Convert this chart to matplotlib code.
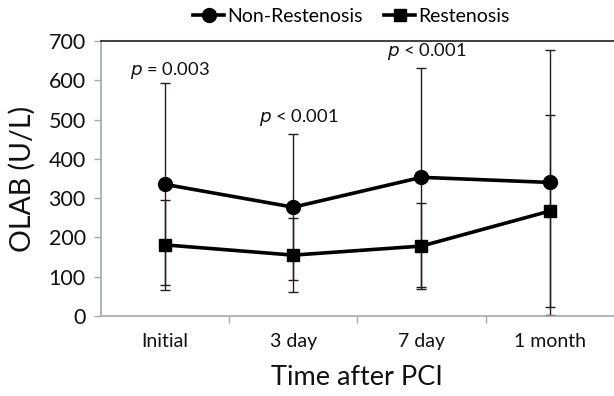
import matplotlib
matplotlib.use("Agg")
import matplotlib.pyplot as plt
from matplotlib.lines import Line2D

plt.rcParams['font.family'] = ['Lato', 'DejaVu Sans']

categories = ["Initial", "3 day", "7 day", "1 month"]
non_rest_mean = [335, 277, 353, 340]
non_rest_sd = [257, 186, 278, 338]
rest_mean = [181, 155, 178, 267]
rest_sd = [114, 94, 109, 244]
p_labels = ["= 0.003", "< 0.001", "< 0.001"]
p_y = [626, 505, 672]

fig = plt.figure(figsize=(6.14, 3.96), dpi=100)
ax = fig.add_axes([0.1645, 0.202, 0.835, 0.6945])

x = list(range(len(categories)))
ecol = '#2a1a1a'
ax.errorbar(x, non_rest_mean, yerr=non_rest_sd, fmt='none', ecolor=ecol,
            elinewidth=1.0, capsize=3.5, capthick=1.0, zorder=2)
ax.errorbar(x, rest_mean, yerr=rest_sd, fmt='none', ecolor=ecol,
            elinewidth=1.0, capsize=3.5, capthick=1.0, zorder=2)
ax.plot(x, non_rest_mean, color='black', lw=2.6, marker='o', ms=10, zorder=3)
ax.plot(x, rest_mean, color='black', lw=2.6, marker='s', ms=9, zorder=3)

for i, (lab, yy) in enumerate(zip(p_labels, p_y)):
    ax.text(i + 0.04, yy, r'$p$ ' + lab, ha='center', va='center', fontsize=13.2,
            color='#111111')

ax.set_xlim(-0.5, 3.5)
ax.set_ylim(0, 700)
ax.set_yticks(range(0, 701, 100))
ax.set_xticks(x)
ax.set_xticklabels(categories)
ax.set_xticks([0.5, 1.5, 2.5], minor=True)
ax.tick_params(axis='x', which='major', length=0, pad=12, labelsize=14, colors='#111111')
ax.tick_params(axis='x', which='minor', length=5, color='#a0a8b0', width=1)
ax.tick_params(axis='y', length=5, color='#a0a8b0', width=1, labelsize=15.5,
               labelcolor='#111111', pad=6)

for s in ['left', 'bottom']:
    ax.spines[s].set_color('#a0a8b0')
    ax.spines[s].set_linewidth(1.2)
ax.spines['right'].set_visible(False)
ax.spines['top'].set_color('#2a1a1a')
ax.spines['top'].set_linewidth(1.2)

ax.set_ylabel('OLAB (U/L)', fontsize=20.5, color='#111111', labelpad=9)
ax.set_xlabel('Time after PCI', fontsize=19.5, color='#111111', labelpad=11)

handles = [Line2D([], [], color='black', lw=2.6, marker='o', ms=10),
           Line2D([], [], color='black', lw=2.6, marker='s', ms=9)]
fig.legend(handles, ['Non-Restenosis', 'Restenosis'], loc='center',
           bbox_to_anchor=(0.572, 0.958), ncol=2, frameon=False, fontsize=14,
           handlelength=1.6, handletextpad=0.15, columnspacing=1.1)

fig.savefig('out.png', dpi=100, facecolor='white')
